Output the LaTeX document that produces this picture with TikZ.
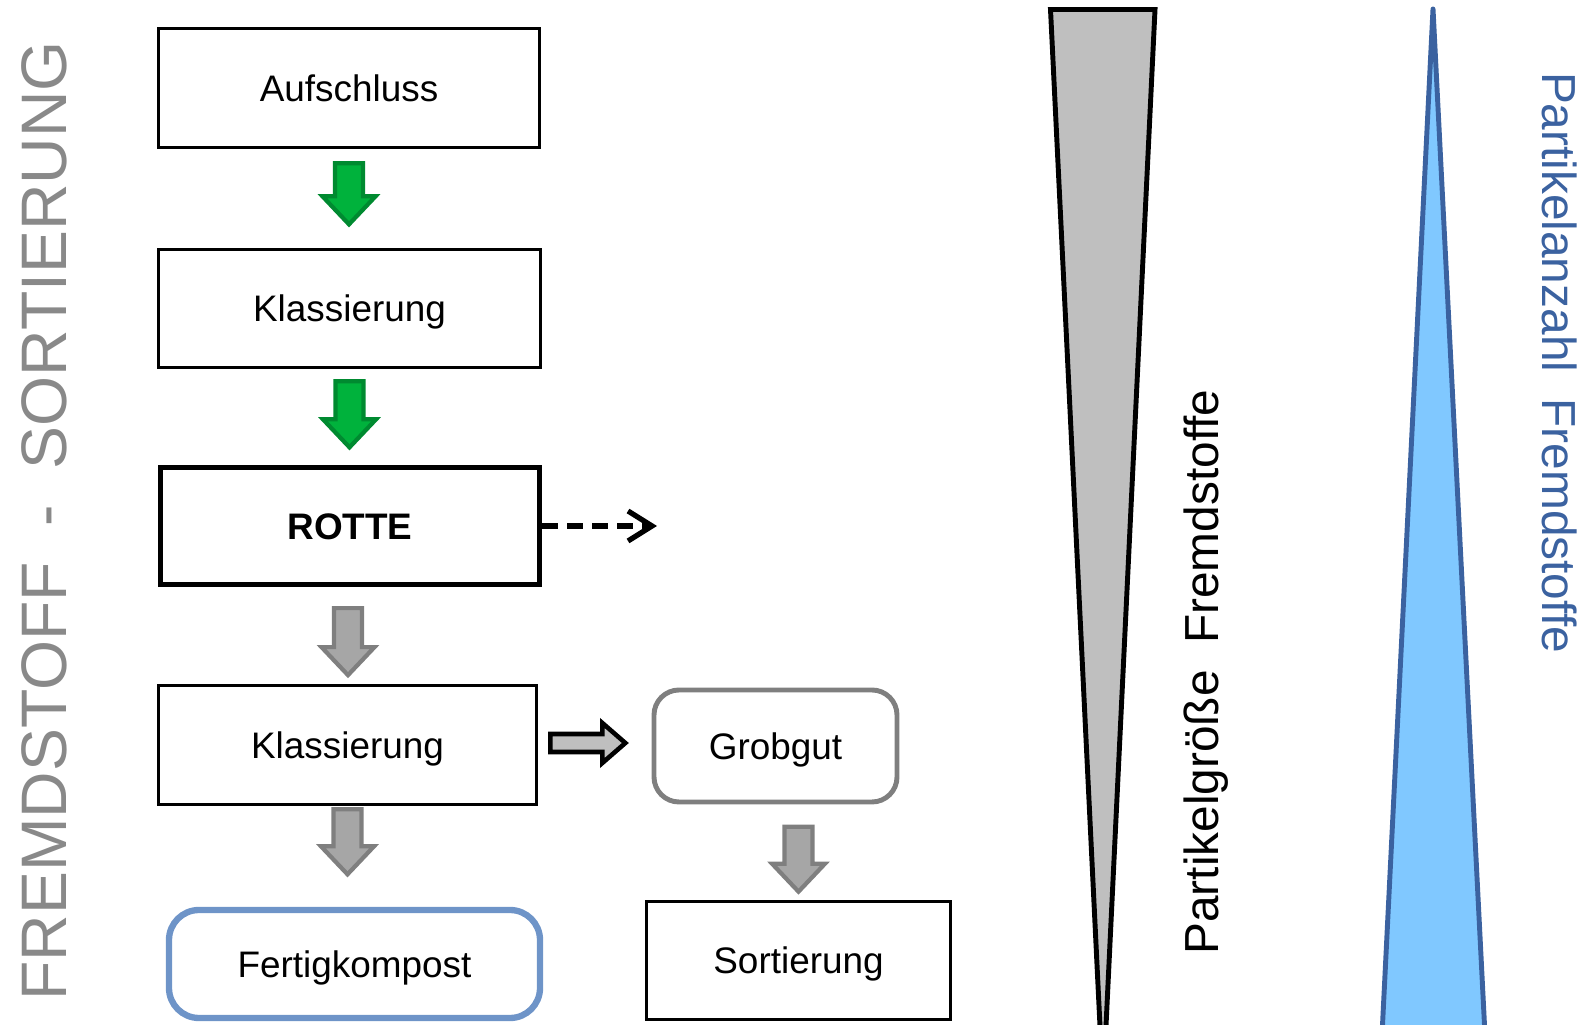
\documentclass[tikz,border=0pt]{standalone}
\usepackage{fontspec}
\setmainfont{Liberation Sans}
\usetikzlibrary{arrows.meta}

\definecolor{pfeilgruen}{RGB}{0,178,60}
\definecolor{pfeilgruenrand}{RGB}{0,138,48}
\definecolor{pfeilgrau}{RGB}{166,166,166}
\definecolor{pfeilgraurand}{RGB}{127,127,127}
\definecolor{keilgrau}{RGB}{191,191,191}
\definecolor{keilblau}{RGB}{128,200,255}
\definecolor{keilblaurand}{RGB}{59,98,160}
\definecolor{kompostblau}{RGB}{110,148,200}
\definecolor{titelgrau}{RGB}{137,137,137}

\newcommand{\boxfont}{\fontsize{10.5}{12}\selectfont}
\newcommand{\keilfont}{\fontsize{13.6}{16}\selectfont}
\newcommand{\titelfont}{\fontsize{18.3}{22}\selectfont}

% block arrow pointing down: top point, length, style
\newcommand{\blockdown}[3]{%
  \draw[#3] (#1) ++(-.14,0) -- ++(.28,0) -- ++(0,{-(#2-.28)}) -- ++(.125,0)
    -- ++(-.265,-.28) -- ++(-.265,.28) -- ++(.125,0) -- cycle;}
% block arrow pointing right: tail point, style
\newcommand{\blockright}[2]{%
  \draw[#2] (#1) ++(0,.09) -- ++(.52,0) -- ++(0,.11) -- ++(.23,-.20)
    -- ++(-.23,-.20) -- ++(0,.11) -- ++(-.52,0) -- cycle;}

\begin{document}
\begin{tikzpicture}[
    prozess/.style={draw,line width=1.05pt,inner sep=0pt,font=\boxfont,
      text height=7.65pt,text depth=0pt},
    rottebox/.style={prozess,line width=1.5pt,font=\boxfont\bfseries},
    ergebnis/.style={draw=kompostblau,line width=1.8pt,rounded corners=3mm,
      inner sep=0pt,font=\boxfont,text height=7.65pt,text depth=0pt},
    restbox/.style={draw=pfeilgraurand,line width=1.4pt,rounded corners=2.5mm,
      inner sep=0pt,font=\boxfont,text height=7.65pt,text depth=0pt},
    gruenpfeil/.style={fill=pfeilgruen,draw=pfeilgruenrand,line width=1.2pt},
    graupfeil/.style={fill=pfeilgrau,draw=pfeilgraurand,line width=1.2pt},
    rechtspfeil/.style={fill=keilgrau,draw=black,line width=1.3pt},
    strichpfeil/.style={line width=1.5pt,dash pattern=on 1.6mm off .9mm,
      -{Straight Barb[length=2.4mm,width=3mm,line width=1.5pt]}}]
  \useasboundingbox (0,0) rectangle (15.85,10.25);
  \begin{scope}
  \clip (0,0) rectangle (15.85,10.25);

  % the two wedges on the right
  \filldraw[fill=keilgrau,draw=black,line width=1.4pt]
    (10.505,10.155) -- (11.55,10.155) -- (11.03,-.63) -- cycle;
  \filldraw[fill=keilblau,draw=keilblaurand,line width=1.4pt,line join=round]
    (14.33,10.16) -- (14.855,-.2) -- (13.815,-.2) -- cycle;

  % process chain
  \node[prozess,minimum width=3.81cm,minimum height=1.19cm] (auf) at (3.49,9.37) {Aufschluss};
  \node[prozess,minimum width=3.82cm,minimum height=1.18cm] (kl1) at (3.495,7.165) {Klassierung};
  \node[rottebox,minimum width=3.79cm,minimum height=1.17cm] (rotte) at (3.50,4.99) {ROTTE};
  \node[prozess,minimum width=3.78cm,minimum height=1.19cm] (kl2) at (3.475,2.80) {Klassierung};
  \node[ergebnis,minimum width=3.71cm,minimum height=1.08cm] (fertig) at (3.545,.61) {Fertigkompost};
  \node[restbox,minimum width=2.43cm,minimum height=1.12cm] (grob) at (7.755,2.79) {Grobgut};
  \node[prozess,minimum width=3.04cm,minimum height=1.18cm] (sort) at (7.985,.645) {Sortierung};

  \blockdown{[yshift=-1.4mm]auf.south}{.61}{gruenpfeil}
  \blockdown{[yshift=-1.2mm]kl1.south}{.66}{gruenpfeil}
  \blockdown{[xshift=-.2mm,yshift=-2.1mm]rotte.south}{.67}{graupfeil}
  \blockdown{[yshift=-.3mm]kl2.south}{.65}{graupfeil}
  \blockdown{[yshift=7.3mm]sort.north}{.65}{graupfeil}
  \blockright{[xshift=1.2mm,yshift=.2mm]kl2.east}{rechtspfeil}

  \coordinate (rotteziel) at (6.57,4.99);
  \draw[strichpfeil] (rotte.east) -- (rotteziel);

  % labels
  \node[rotate=90,anchor=base,font=\keilfont] (groesse) at (12.18,3.53)
    {Partikelgröße\ \ Fremdstoffe};
  \node[rotate=-90,anchor=base,font=\keilfont,text=keilblaurand] (anzahl) at (15.42,6.625)
    {Partikelanzahl\ \ Fremdstoffe};
  \node[rotate=90,anchor=base,font=\titelfont,text=titelgrau] (titel) at (.66,5.04)
    {FREMDSTOFF\ \ -\ \ SORTIERUNG};
  \end{scope}
\end{tikzpicture}
\end{document}
